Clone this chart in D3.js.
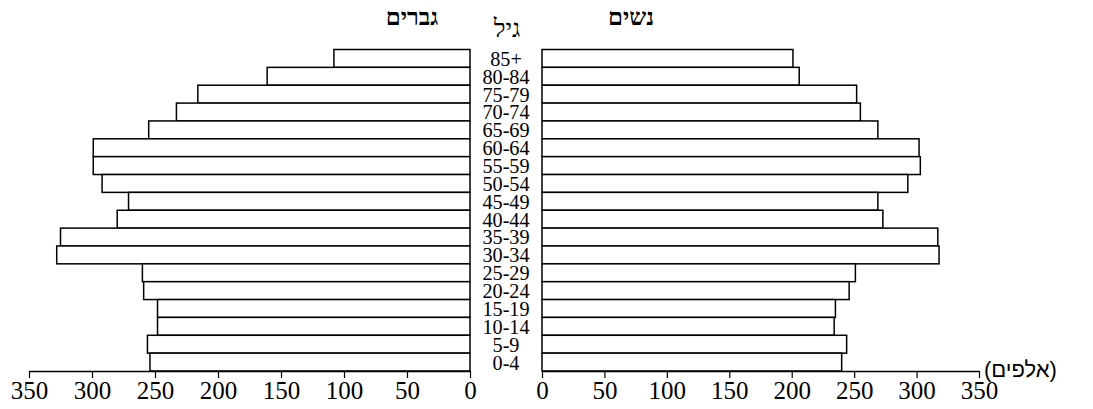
<!DOCTYPE html>
<html>
<head>
<meta charset="utf-8">
<script src="https://cdn.jsdelivr.net/npm/d3@7"></script>
<style>
  html, body { margin: 0; padding: 0; background: #fff; }
  svg { display: block; }
</style>
</head>
<body>
<svg id="chart" width="1093" height="409"></svg>
<script>
const ages = ["85+","80-84","75-79","70-74","65-69","60-64","55-59","50-54","45-49","40-44","35-39","30-34","25-29","20-24","15-19","10-14","5-9","0-4"];
const men   = [108,161,216,233,255,299,299,292,271,280,325,328,260,259,248,248,256,254];
const women = [201,206,252,255,269,302,303,293,269,273,317,318,251,246,235,234,244,240];
const ticks = [0,50,100,150,200,250,300,350];
const titleMen = "גברים";
const titleWomen = "נשים";
const titleAge = "גיל";
const unitLabel = "(אלפים)";

const svg = d3.select("#chart");
const serif = "'Liberation Serif', 'DejaVu Serif', serif";

const xL = d3.scaleLinear().domain([0,350]).range([470,29]);
const xR = d3.scaleLinear().domain([0,350]).range([542,979]);
const y = d3.scaleBand().domain(ages).range([49.5,371]).padding(0);

// bars
svg.append("g").selectAll("rect").data(ages).join("rect")
  .attr("x", (d,i) => xL(men[i]))
  .attr("y", d => y(d))
  .attr("width", (d,i) => xL(0) - xL(men[i]))
  .attr("height", y.bandwidth())
  .attr("fill", "#fff").attr("stroke", "#000").attr("stroke-width", 1.5);

svg.append("g").selectAll("rect").data(ages).join("rect")
  .attr("x", xR(0))
  .attr("y", d => y(d))
  .attr("width", (d,i) => xR(women[i]) - xR(0))
  .attr("height", y.bandwidth())
  .attr("fill", "#fff").attr("stroke", "#000").attr("stroke-width", 1.5);

// axes
function styleAxis(g) {
  g.select(".domain").attr("stroke", "#000").attr("stroke-width", 1.5);
  g.selectAll(".tick line").attr("stroke", "#000").attr("stroke-width", 1.2);
  g.selectAll(".tick text").attr("font-family", serif).attr("font-size", 25).attr("fill", "#000").attr("dy", "0.71em").attr("y", 10);
}
svg.append("g").attr("transform", "translate(0,371)")
  .call(d3.axisBottom(xL).tickValues(ticks).tickSize(7).tickSizeOuter(0).tickFormat(d3.format("d")))
  .call(styleAxis);
svg.append("g").attr("transform", "translate(0,371)")
  .call(d3.axisBottom(xR).tickValues(ticks).tickSize(7).tickSizeOuter(0).tickFormat(d3.format("d")))
  .call(styleAxis);

// age labels
svg.append("g").selectAll("text").data(ages).join("text")
  .attr("transform", d => `translate(506,${y(d) + y.bandwidth() - 1.5}) scale(0.92,1)`)
  .attr("text-anchor", "middle")
  .attr("direction", "ltr")
  .attr("font-family", serif).attr("font-size", 22)
  .text(d => d);

// titles
svg.append("text").attr("x", 412).attr("y", 25).attr("text-anchor", "middle")
  .attr("font-family", serif).attr("font-weight", "bold").attr("font-size", 24).text(titleMen);
svg.append("text").attr("x", 631).attr("y", 25).attr("text-anchor", "middle")
  .attr("font-family", serif).attr("font-weight", "bold").attr("font-size", 24).text(titleWomen);
svg.append("text").attr("x", 507).attr("y", 37).attr("text-anchor", "middle")
  .attr("font-family", serif).attr("font-size", 25).text(titleAge);
svg.append("text").attr("x", 984).attr("y", 377)
  .attr("font-family", "'Liberation Sans', 'DejaVu Sans', sans-serif").attr("font-size", 22).text(unitLabel);
</script>
</body>
</html>
